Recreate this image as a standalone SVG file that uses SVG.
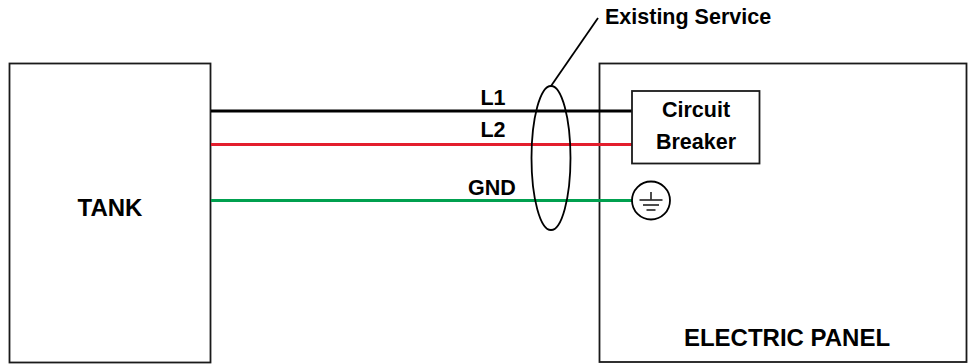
<svg xmlns="http://www.w3.org/2000/svg" width="968" height="364" viewBox="0 0 968 364">
<style>
.box{fill:#fff;stroke:#1a1a1a;stroke-width:1.8}
.lbl{font-family:"Liberation Sans",Arial,sans-serif;font-weight:bold;font-size:21.5px;fill:#000}
.big{font-family:"Liberation Sans",Arial,sans-serif;font-weight:bold;font-size:24px;fill:#000}
.wire{fill:none;stroke-width:3.2}
.thin{fill:none;stroke:#000;stroke-width:1.8}
.gl{stroke:#000;stroke-width:1.4}
</style>
<rect width="968" height="364" fill="#fff"/>
<g id="tank">
<rect class="box" x="9.5" y="63.5" width="201" height="299"/>
<text class="big" x="110" y="216" text-anchor="middle">TANK</text>
</g>
<g id="electric-panel">
<rect class="box" x="599.5" y="63.5" width="367" height="298.5"/>
<text class="big" x="787" y="346" text-anchor="middle">ELECTRIC PANEL</text>
</g>
<g id="connectors">
<line class="wire" x1="211" y1="111" x2="632" y2="111" stroke="#000"/>
<line class="wire" x1="211" y1="144.5" x2="632" y2="144.5" stroke="#e31e2d"/>
<line class="wire" x1="211" y1="200.5" x2="632" y2="200.5" stroke="#00a04f"/>
<text class="lbl" x="493" y="105" text-anchor="middle">L1</text>
<text class="lbl" x="493" y="137" text-anchor="middle">L2</text>
<text class="lbl" x="492" y="195" text-anchor="middle">GND</text>
</g>
<g id="circuit-breaker">
<rect class="box" x="632" y="91" width="127.5" height="72.5"/>
<text class="lbl" x="696" y="117" text-anchor="middle">Circuit</text>
<text class="lbl" x="696" y="149" text-anchor="middle">Breaker</text>
</g>
<g id="ground">
<circle cx="651" cy="200.5" r="19" fill="#fff" stroke="#000" stroke-width="1.8"/>
<line class="gl" x1="651" y1="192" x2="651" y2="199.5"/>
<line class="gl" x1="639.5" y1="200" x2="662.5" y2="200"/>
<line class="gl" x1="643" y1="205" x2="659" y2="205"/>
<line class="gl" x1="646.5" y1="210" x2="655.5" y2="210"/>
</g>
<g id="existing-service">
<ellipse class="thin" cx="551" cy="158" rx="19.5" ry="72"/>
<line class="thin" x1="551" y1="86" x2="598" y2="18"/>
<text class="lbl" x="605" y="24">Existing Service</text>
</g>
</svg>
